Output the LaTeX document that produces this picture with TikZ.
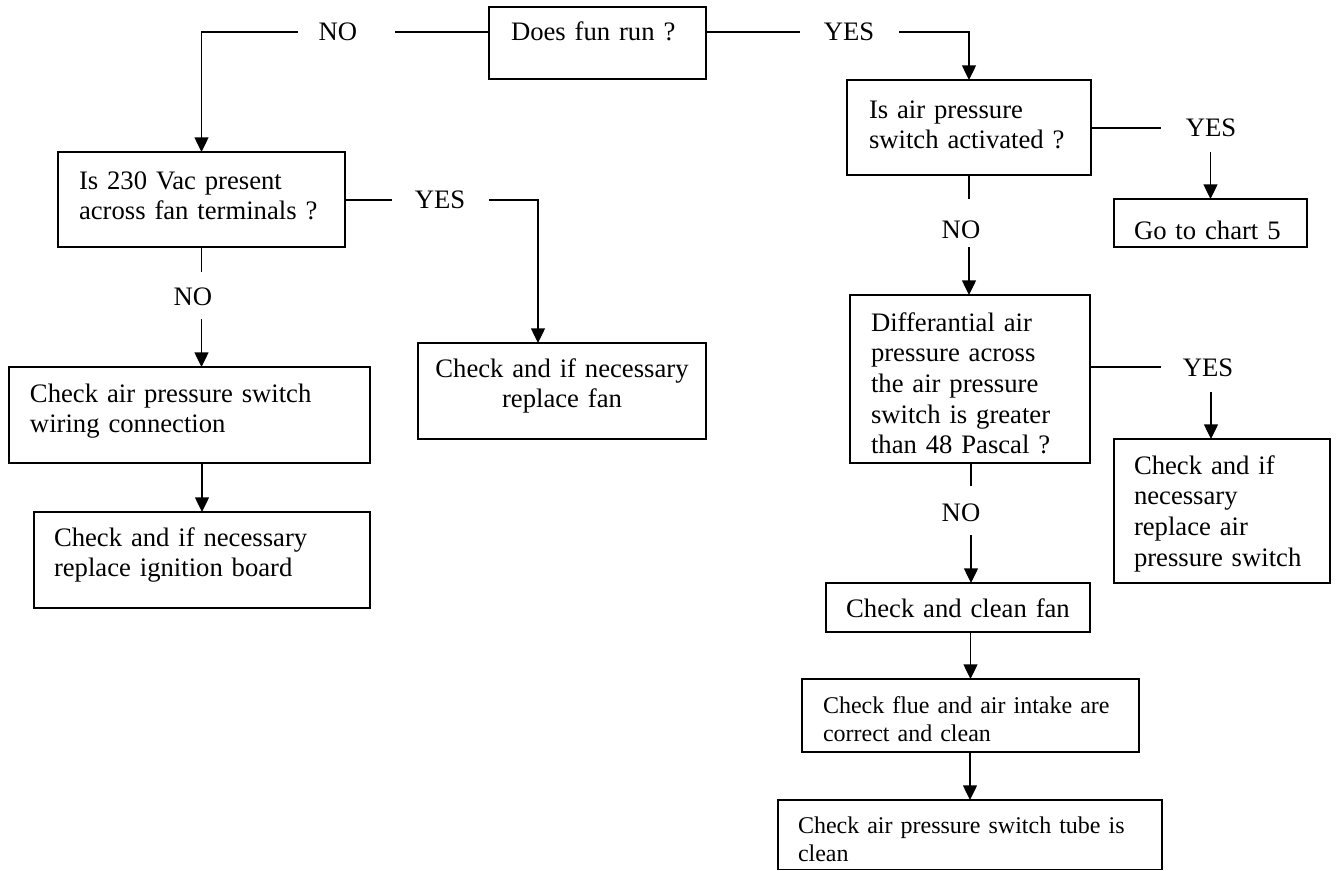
\documentclass[tikz,border=0pt]{standalone}
\usepackage{fontspec}
\setmainfont{Liberation Serif}
\usetikzlibrary{arrows.meta}
\tikzset{
  box/.style={draw, line width=1pt, inner ysep=0pt, outer sep=0pt, anchor=north west, align=left},
  cbox/.style={box, align=center},
  lbl/.style={inner sep=0pt, outer sep=0pt},
  conn/.style={line width=1pt},
  arr/.style={conn, -{Triangle[length=11pt,width=10.5pt]}},
  small/.style={font=\fontsize{18}{21}\selectfont}
}
\begin{document}
\begin{tikzpicture}[x=0.75pt, y=-0.75pt, font=\fontsize{20}{23}\selectfont]
\useasboundingbox (0,0) rectangle (1340,871);

% boxes
\node[box, inner xsep=16.5pt, text width=129.75pt, text height=24.75pt, text depth=29.25pt] (q1) at (489,7) {Does fun run ?};
\node[box, inner xsep=15.75pt, text width=183.75pt, text height=27.75pt, text depth=43.5pt] (q2) at (58,152) {Is 230 Vac present\\across fan terminals ?};
\node[box, inner xsep=15.75pt, text width=239.25pt, text height=26.25pt, text depth=45.75pt] (a1) at (9,367) {Check air pressure switch\\wiring connection};
\node[box, inner xsep=15pt, text width=222pt, text height=25.5pt, text depth=46.5pt] (a2) at (34,512) {Check and if necessary\\replace ignition board};
\node[cbox, inner xsep=7.5pt, text width=201pt, text height=25.5pt, text depth=46.5pt] (a3) at (418,343) {Check and if necessary\\replace fan};
\node[box, inner xsep=16.5pt, text width=150pt, text height=28.5pt, text depth=42.75pt] (q3) at (847,80) {Is air pressure\\switch activated ?};
\node[box, inner xsep=15pt, text width=114.75pt, text height=30pt, text depth=6pt] (a4) at (1114,199) {Go to chart 5};
\node[box, inner xsep=15.75pt, text width=148.5pt, text height=27pt, text depth=99pt] (q4) at (850,295) {Differantial air\\pressure across\\the air pressure\\switch is greater\\than 48 Pascal ?};
\node[box, inner xsep=15pt, text width=132pt, text height=26.25pt, text depth=81.75pt] (a5) at (1114,439) {Check and if\\necessary\\replace air\\pressure switch};
\node[cbox, inner xsep=7.5pt, text width=183pt, text height=25.5pt, text depth=11.25pt] (a6) at (826,583) {Check and clean fan};
\node[box, small, inner xsep=15.75pt, text width=221.25pt, text height=25.5pt, text depth=29.25pt] (a7) at (802,679) {Check flue and air intake are\\correct and clean};
\node[box, small, inner xsep=15pt, text width=258pt, text height=24.75pt, text depth=27.375pt] (a8) at (778,800) {Check air pressure switch tube is\\clean};

% labels
\node[lbl] (no1) at (338,32) {NO};
\node[lbl] (yes1) at (849,32) {YES};
\node[lbl] (yes2) at (440,200) {YES};
\node[lbl] (no2) at (193,297) {NO};
\node[lbl] (yes3) at (1211,128) {YES};
\node[lbl] (no3) at (961,230) {NO};
\node[lbl] (yes4) at (1208,368) {YES};
\node[lbl] (no4) at (961,513) {NO};

% gap coordinates
\coordinate (n1r) at (395,32);
\coordinate (n1l) at (298,32);
\coordinate (y1l) at (800,32);
\coordinate (y1r) at (899,32);
\coordinate (y2l) at (392,200);
\coordinate (y2r) at (489,200);
\coordinate (y2c) at (538,200);
\coordinate (n2t) at (201.5,272);
\coordinate (n2b) at (201.5,319);
\coordinate (y3l) at (1161,128);
\coordinate (y3b) at (1210.5,152);
\coordinate (n3t) at (969,199);
\coordinate (n3b) at (969,247);
\coordinate (y4l) at (1161,367);
\coordinate (y4b) at (1211,392);
\coordinate (n4t) at (971,486);
\coordinate (n4b) at (971,535);

% connectors
\draw[conn] (q1.west |- no1) -- (n1r);
\draw[arr] (n1l) -| (q2.north);
\draw[conn] (q1.east |- yes1) -- (y1l);
\draw[arr] (y1r) -| (q3.north);
\draw[conn] (q2.east |- yes2) -- (y2l);
\draw[arr] (y2r) -- (y2c) -- (y2c |- a3.north);
\draw[conn] (q2.south) -- (n2t);
\draw[arr] (n2b) -- (n2b |- a1.north);
\draw[arr] (a2.north |- a1.south) -- (a2.north);
\draw[conn] (q3.east |- yes3) -- (y3l);
\draw[arr] (y3b) -- (y3b |- a4.north);
\draw[conn] (q3.south) -- (n3t);
\draw[arr] (n3b) -- (n3b |- q4.north);
\draw[conn] (q4.east |- y4l) -- (y4l);
\draw[arr] (y4b) -- (y4b |- a5.north);
\draw[conn] (q4.south -| n4t) -- (n4t);
\draw[arr] (n4b) -- (n4b |- a6.north);
\draw[arr] (a7.north |- a6.south) -- (a7.north);
\draw[arr] (a8.north |- a7.south) -- (a8.north);
\end{tikzpicture}
\end{document}
